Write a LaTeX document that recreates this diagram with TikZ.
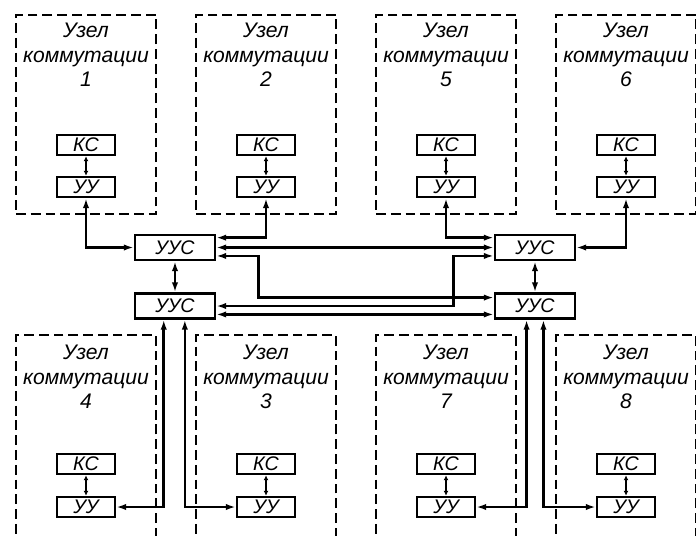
\documentclass[tikz,border=0pt]{standalone}
\usepackage{fontspec}
\setmainfont{Liberation Sans}
\usetikzlibrary{arrows.meta,positioning,calc}

\tikzset{
  uzel/.style={draw, line width=1.5pt, dash pattern=on 7pt off 3.5pt, minimum width=3.5cm, inner sep=0pt},
  title/.style={align=center, font=\fontsize{15}{17.5}\selectfont\itshape},
  blk/.style={draw, line width=1.8pt, minimum width=1.45cm, minimum height=0.5cm, inner sep=0pt, font=\fontsize{14}{14}\selectfont\itshape},
  uus/.style={blk, minimum width=2cm, minimum height=0.625cm},
  link/.style={line width=1.8pt, {Latex[length=7pt,width=4.5pt]}-{Latex[length=7pt,width=4.5pt]}},
  short/.style={line width=1.4pt, {Latex[length=3.5pt,width=3.5pt]}-{Latex[length=3.5pt,width=3.5pt]}}
}

\begin{document}
\begin{tikzpicture}[x=0.025cm, y=-0.025cm]
    \useasboundingbox (0,0) rectangle (696,535);
    \clip (0,0) rectangle (696,535);

    % Upper switching nodes
    \node[uzel, minimum height=4.975cm] (u1) at (86,114.5) {};
    \node[title] (t1) at (86,55) {Узел\\коммутации\\1};
    \node[blk] (ks1) at (86,145) {КС};
    \node[blk] (uu1) at (86,187) {УУ};
    \draw[short] (ks1) -- (uu1);

    \node[uzel, minimum height=4.975cm] (u2) at (266,114.5) {};
    \node[title] (t2) at (266,55) {Узел\\коммутации\\2};
    \node[blk] (ks2) at (266,145) {КС};
    \node[blk] (uu2) at (266,187) {УУ};
    \draw[short] (ks2) -- (uu2);

    \node[uzel, minimum height=4.975cm] (u5) at (446,114.5) {};
    \node[title] (t5) at (446,55) {Узел\\коммутации\\5};
    \node[blk] (ks5) at (446,145) {КС};
    \node[blk] (uu5) at (446,187) {УУ};
    \draw[short] (ks5) -- (uu5);

    \node[uzel, minimum height=4.975cm] (u6) at (626,114.5) {};
    \node[title] (t6) at (626,55) {Узел\\коммутации\\6};
    \node[blk] (ks6) at (626,145) {КС};
    \node[blk] (uu6) at (626,187) {УУ};
    \draw[short] (ks6) -- (uu6);

    % Lower switching nodes
    \node[uzel, minimum height=5.625cm] (u4) at (86,447.5) {};
    \node[title] (t4) at (86,377) {Узел\\коммутации\\4};
    \node[blk] (ks4) at (86,464) {КС};
    \node[blk] (uu4) at (86,507) {УУ};
    \draw[short] (ks4) -- (uu4);

    \node[uzel, minimum height=5.625cm] (u3) at (266,447.5) {};
    \node[title] (t3) at (266,377) {Узел\\коммутации\\3};
    \node[blk] (ks3) at (266,464) {КС};
    \node[blk] (uu3) at (266,507) {УУ};
    \draw[short] (ks3) -- (uu3);

    \node[uzel, minimum height=5.625cm] (u7) at (446,447.5) {};
    \node[title] (t7) at (446,377) {Узел\\коммутации\\7};
    \node[blk] (ks7) at (446,464) {КС};
    \node[blk] (uu7) at (446,507) {УУ};
    \draw[short] (ks7) -- (uu7);

    \node[uzel, minimum height=5.625cm] (u8) at (626,447.5) {};
    \node[title] (t8) at (626,377) {Узел\\коммутации\\8};
    \node[blk] (ks8) at (626,464) {КС};
    \node[blk] (uu8) at (626,507) {УУ};
    \draw[short] (ks8) -- (uu8);

    % Signalling control units
    \node[uus] (uusA) at (175,247.5) {УУС};
    \node[uus] (uusB) at (535,247.5) {УУС};
    \node[uus] (uusC) at (175,306) {УУС};
    \node[uus] (uusD) at (535,306) {УУС};

    % Links
    \draw[link] (uu1.south) |- (uusA.west);
    \draw[link] (uu2.south) |- ([yshift=7pt]uusA.east);
    \draw[link] (uusA.east) -- (uusB.west);
    \draw[link] ([yshift=-6pt]uusA.east) -- ++(42,0) |- ([yshift=6pt]uusD.west);
    \draw[link] (uu5.south) |- ([yshift=7pt]uusB.west);
    \draw[link] ([yshift=-6pt]uusB.west) -- ++(-40,0) |- (uusC.east);
    \draw[link] ([yshift=-6pt]uusC.east) -- ([yshift=-6pt]uusD.west);
    \draw[link] (uu6.south) |- (uusB.east);
    \draw[link] (uusA) -- (uusC);
    \draw[link] (uusB) -- (uusD);
    \draw[link] ([xshift=-8pt]uusC.south) |- (uu4.east);
    \draw[link] ([xshift=7pt]uusC.south) |- (uu3.west);
    \draw[link] ([xshift=-6pt]uusD.south) |- (uu7.east);
    \draw[link] ([xshift=6pt]uusD.south) |- (uu8.west);
\end{tikzpicture}
\end{document}
